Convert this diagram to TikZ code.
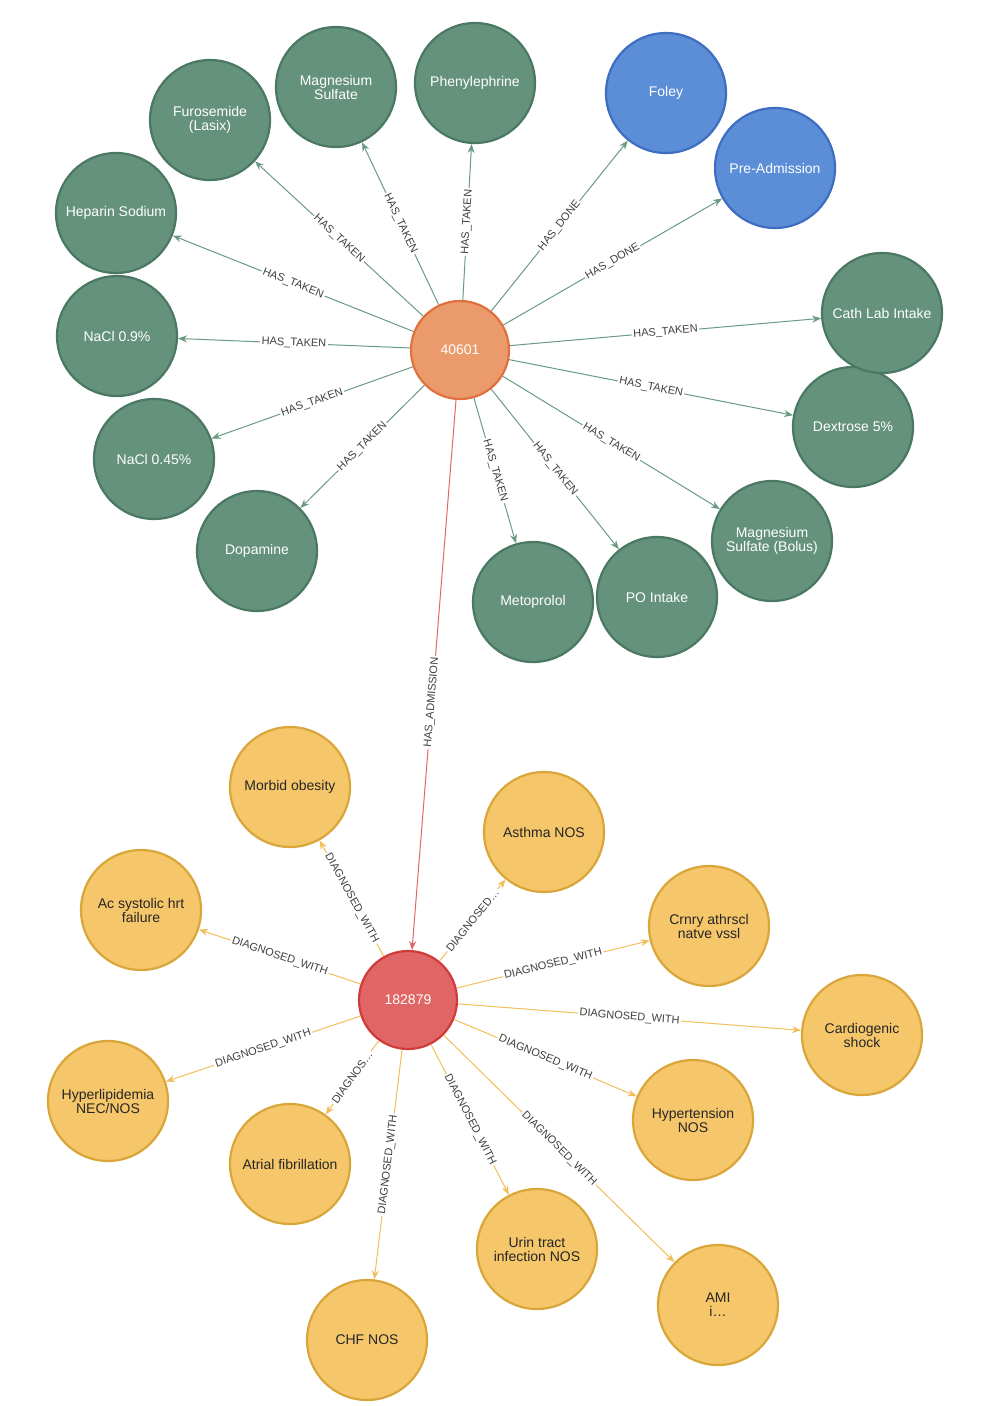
\documentclass[tikz,border=0pt]{standalone}
\usepackage{fontspec}
\setmainfont{Liberation Sans}
\usetikzlibrary{arrows.meta}
\definecolor{medfill}{HTML}{65927C}
\definecolor{medline}{HTML}{4A7862}
\definecolor{procfill}{HTML}{5B8ED6}
\definecolor{procline}{HTML}{3E6DC2}
\definecolor{patfill}{HTML}{EB9A6B}
\definecolor{patline}{HTML}{E0703E}
\definecolor{admfill}{HTML}{E06666}
\definecolor{admline}{HTML}{D03A3A}
\definecolor{dxfill}{HTML}{F5C66A}
\definecolor{dxline}{HTML}{D9A63A}
\definecolor{medarrow}{HTML}{6A9A83}
\definecolor{dxarrow}{HTML}{F2BE5C}

\begin{document}
\begin{tikzpicture}[x=1pt,y=-1pt]
		\tikzset{
			circ/.style=
			{circle,line width=2.2pt,minimum size=120pt,inner sep=1pt,align=center,
			 font=\fontsize{14}{14}\selectfont},
			med/.style={circ,fill=medfill,draw=medline,text=white},
			proc/.style={circ,fill=procfill,draw=procline,text=white},
			dx/.style={circ,fill=dxfill,draw=dxline,text=black!85},
			hub/.style={circ,minimum size=98pt},
			rel/.style={-{Stealth[length=9pt,width=7pt]},line width=1pt},
			lbl/.style={sloped,fill=white,inner sep=1.5pt,text=black!75,
			 font=\fontsize{11}{11}\selectfont},
		}
		\useasboundingbox (0,0) rectangle (986,1406);
		% patient and admission
		\node[hub,fill=patfill,draw=patline,text=white] (patient) at (460,350) {40601};
		\node[hub,fill=admfill,draw=admline,text=white] (adm) at (408,1000) {182879};
		% medications and procedures
		\node[med] (mgs) at (336,87) {Magnesium\\Sulfate};
		\node[med] (phen) at (475,83) {Phenylephrine};
		\node[med] (furo) at (210,120) {Furosemide\\(Lasix)};
		\node[med] (hep) at (116,213) {Heparin Sodium};
		\node[med] (nacl9) at (117,336) {NaCl 0.9\%};
		\node[med] (nacl45) at (154,459) {NaCl 0.45\%};
		\node[med] (dopa) at (257,551) {Dopamine};
		\node[med] (meto) at (533,602) {Metoprolol};
		\node[med] (po) at (657,597) {PO Intake};
		\node[med] (mgsb) at (772,541) {Magnesium\\Sulfate (Bolus)};
		\node[med] (dex) at (853,427) {Dextrose 5\%};
		\node[med] (cath) at (882,313) {Cath Lab Intake};
		\node[proc] (foley) at (666,93) {Foley};
		\node[proc] (preadm) at (775,168) {Pre-Admission};
		% diagnoses
		\node[dx] (obes) at (290,787) {Morbid obesity};
		\node[dx] (asth) at (544,832) {Asthma NOS};
		\node[dx] (acsys) at (141,910) {Ac systolic hrt\\failure};
		\node[dx] (crnry) at (709,926) {Crnry athrscl\\natve vssl};
		\node[dx] (shock) at (862,1035) {Cardiogenic\\shock};
		\node[dx] (lipid) at (108,1101) {Hyperlipidemia\\NEC/NOS};
		\node[dx] (htn) at (693,1120) {Hypertension\\NOS};
		\node[dx] (afib) at (290,1164) {Atrial fibrillation};
		\node[dx] (uti) at (537,1249) {Urin tract\\infection NOS};
		\node[dx] (ami) at (718,1305) {AMI\\i\dots};
		\node[dx] (chf) at (367,1340) {CHF NOS};
		% relations
		\foreach \t/\r in {mgs/HAS\_TAKEN,phen/HAS\_TAKEN,furo/HAS\_TAKEN,hep/HAS\_TAKEN,
			nacl9/HAS\_TAKEN,nacl45/HAS\_TAKEN,dopa/HAS\_TAKEN,meto/HAS\_TAKEN,po/HAS\_TAKEN,
			mgsb/HAS\_TAKEN,dex/HAS\_TAKEN,cath/HAS\_TAKEN,foley/HAS\_DONE,preadm/HAS\_DONE}
		\draw[rel,medarrow] (patient) -- node[lbl] {\r} (\t);
		\draw[rel,admfill] (patient) -- node[lbl,pos=.55] {HAS\_ADMISSION} (adm);
		\foreach \t/\r in {obes/DIAGNOSED\_WITH,asth/DIAGNOSED\dots,acsys/DIAGNOSED\_WITH,
			crnry/DIAGNOSED\_WITH,shock/DIAGNOSED\_WITH,lipid/DIAGNOSED\_WITH,
			htn/DIAGNOSED\_WITH,afib/DIAGNOS\dots,uti/DIAGNOSED\_WITH,ami/DIAGNOSED\_WITH,
			chf/DIAGNOSED\_WITH}
		\draw[rel,dxarrow] (adm) -- node[lbl] {\r} (\t);
\end{tikzpicture}
\end{document}
